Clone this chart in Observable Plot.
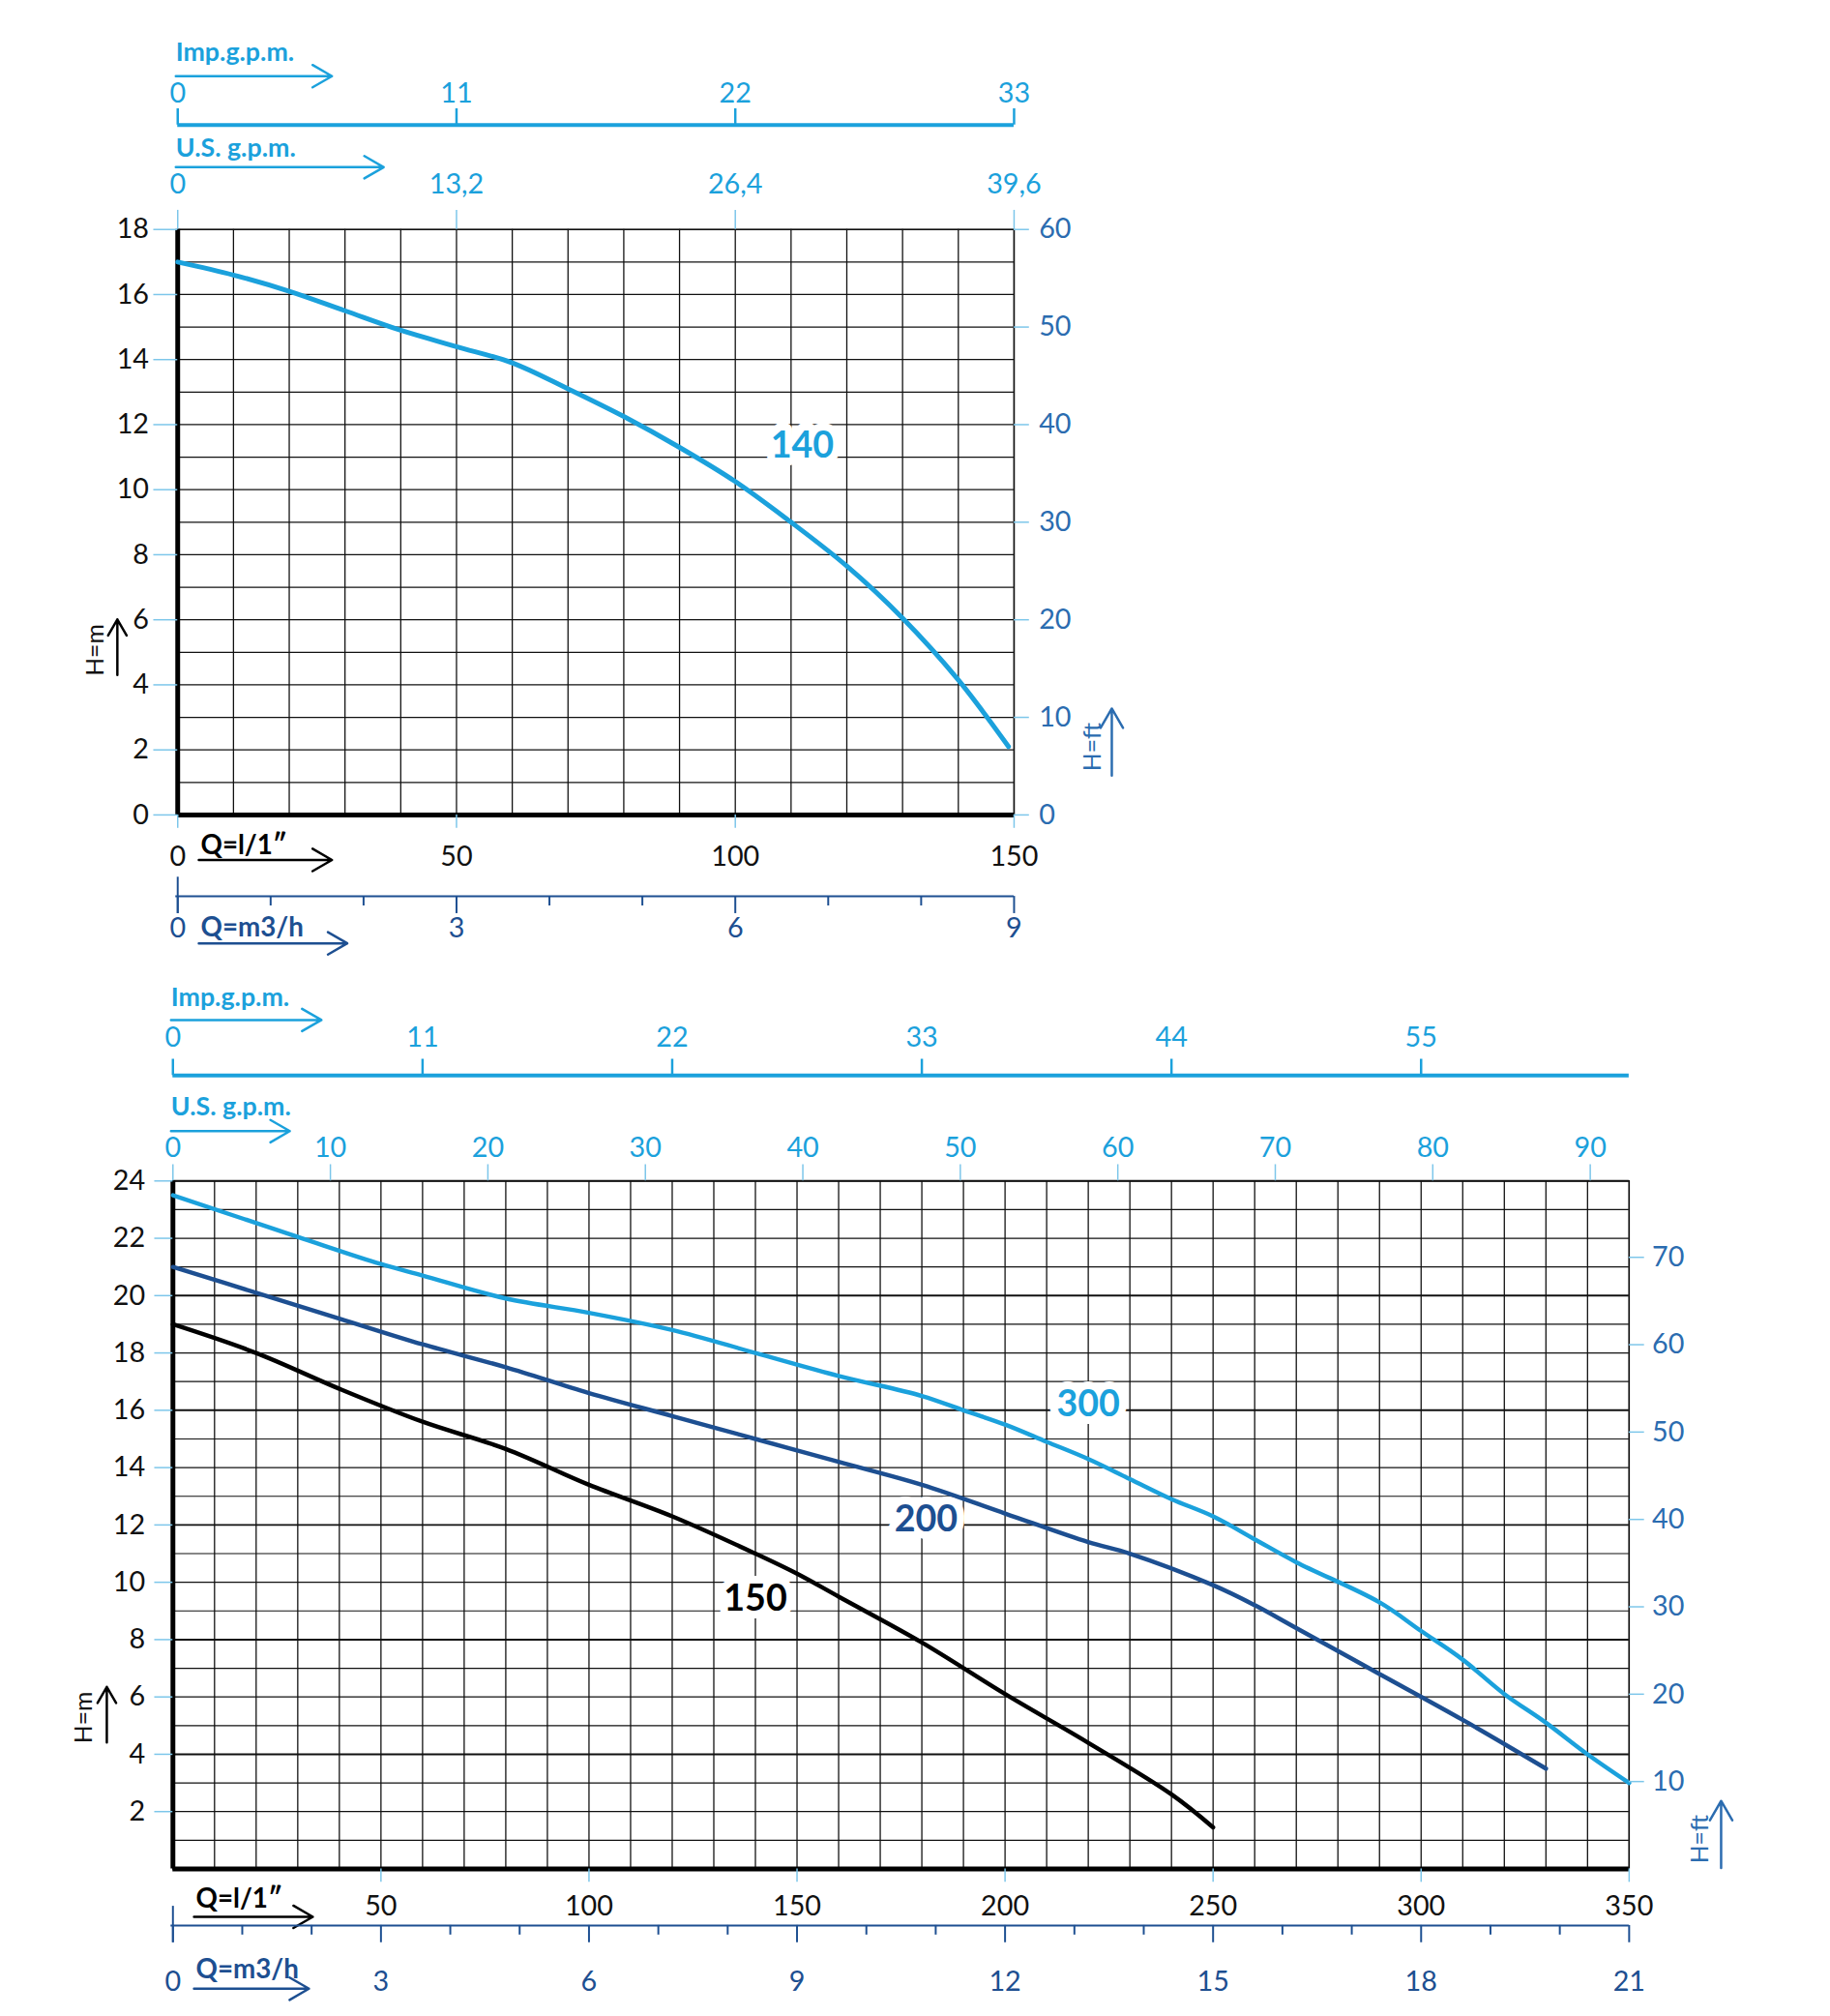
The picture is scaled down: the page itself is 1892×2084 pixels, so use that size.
<!DOCTYPE html>
<html><head><meta charset="utf-8">
<script src="https://cdn.jsdelivr.net/npm/d3@7"></script>
<script src="https://cdn.jsdelivr.net/npm/@observablehq/plot@0.6"></script>
<style>body{margin:0;background:#fff;overflow:hidden}svg{display:block}#c{transform:scale(0.9905);transform-origin:0 0}</style>
</head><body><div id="c"></div>
<script>
// ---- chart 1 data (Q in l/min, H in m)
const q140 = [0,10,20,30,40,50,60,70,80,90,100,110,120,130,140,149];
const h140 = [17,16.6,16.1,15.5,14.9,14.4,13.9,13.1,12.25,11.3,10.25,9.0,7.65,6.05,4.15,2.1];
const imp1 = ["0","11","22","33"], imp1Pos = [0,50,100,150];
const us1 = ["0","13,2","26,4","39,6"], us1Pos = [0,50,100,150];
const ls1 = [0,50,100,150];
const m3h1 = [0,3,6,9];
const hm1 = [0,2,4,6,8,10,12,14,16,18];
const ft1 = [0,10,20,30,40,50,60];
// ---- chart 2 data
const qA = [0,20,40,60,80,100,120,140,150,160,180,200,220,240,250];
const h150 = [19,18,16.75,15.6,14.65,13.4,12.3,11.0,10.3,9.5,7.9,6.1,4.4,2.6,1.45];
const qB = [0,20,40,60,80,100,120,140,160,180,200,220,230,250,260,270,290,310,330];
const h200 = [21,20.1,19.2,18.3,17.5,16.6,15.8,15.0,14.2,13.4,12.4,11.4,11.0,9.9,9.2,8.4,6.8,5.2,3.5];
const qC = [0,30,50,60,80,100,120,140,160,180,190,200,210,220,230,240,250,260,270,290,300,310,320,330,340,350];
const h300 = [23.5,22.05,21.1,20.7,19.9,19.4,18.8,18.0,17.2,16.5,16.0,15.5,14.9,14.3,13.6,12.9,12.3,11.5,10.7,9.3,8.3,7.3,6.1,5.1,4.0,3.0];
const imp2 = ["0","11","22","33","44","55"], imp2Pos = [0,60,120,180,240,300];
const us2 = [0,10,20,30,40,50,60,70,80,90];
const ls2 = [50,100,150,200,250,300,350];
const m3h2 = [0,3,6,9,12,15,18,21];
const hm2 = [2,4,6,8,10,12,14,16,18,20,22,24];
const ft2 = [10,20,30,40,50,60,70];

const LB="#1ba1dc", DB="#1d4f91", TB="#7cc6ea", RB="#2b6cb0";
const F = "Lato, 'Open Sans', sans-serif";

function chart(c){
  const {H,L,R,T,B,xmax,ymax} = c;
  const X = px => (px-L)*xmax/(R-L);
  const Y = py => ymax-(py-T)*ymax/(B-T);
  const marks = [];
  marks.push(Plot.ruleX(d3.range(0,xmax+1,10),{stroke:"#111",strokeWidth:1.3}));
  marks.push(Plot.ruleY(d3.range(0,ymax+1,1),{stroke:"#111",strokeWidth:d=>c.heavy&&d%4===0?2:1.2}));
  marks.push(Plot.ruleY([ymax],{stroke:"#111",strokeWidth:1.5}));
  marks.push(Plot.ruleX([xmax],{stroke:"#111",strokeWidth:1.5}));
  marks.push(Plot.ruleX([0],{stroke:"#000",strokeWidth:5}));
  marks.push(Plot.ruleY([0],{stroke:"#000",strokeWidth:5}));
  for(const s of c.series){
    const d = s.q.map((q,i)=>({q,h:s.h[i]}));
    marks.push(Plot.line(d,{x:"q",y:"h",stroke:s.color,strokeWidth:c.sw,curve:"catmull-rom"}));
  }
  for(const s of c.series){
    marks.push(Plot.text([s.label],{x:s.lx,y:s.ly,text:d=>d,fill:s.tcolor,fontSize:38,fontWeight:"bold",stroke:"white",strokeWidth:16,paintOrder:"stroke",fontFamily:F}));
  }
  marks.push(Plot.ruleY(c.hm,{x1:X(c.ltick),x2:0,stroke:TB,strokeWidth:1.5}));
  marks.push(Plot.text(c.hm,{x:X(c.llab),y:d=>d,text:d=>String(d),textAnchor:"end",fontSize:29,fill:"#111",fontFamily:F}));
  marks.push(Plot.ruleY(c.ft,{y:d=>d*c.ftf,x1:xmax,x2:X(R+16),stroke:TB,strokeWidth:1.5}));
  marks.push(Plot.text(c.ft,{x:X(c.rlab),y:d=>d*c.ftf,text:d=>String(d),textAnchor:"start",fontSize:29,fill:RB,fontFamily:F}));
  marks.push(Plot.ruleX(c.usPos,{y1:ymax,y2:Y(c.usTick),stroke:TB,strokeWidth:1.5}));
  marks.push(Plot.text(c.us,{x:(d,i)=>c.usPos[i],y:Y(c.usLab),text:d=>String(d),fontSize:29,fill:LB,fontFamily:F}));
  marks.push(Plot.text(["U.S. g.p.m."],{x:X(L-2),y:Y(c.usTitle),text:d=>d,textAnchor:"start",fontSize:27,fontWeight:"bold",fill:LB,fontFamily:F}));
  marks.push(Plot.arrow([0],{x1:X(L-2),x2:X(c.usArrowEnd),y1:Y(c.usArrow),y2:Y(c.usArrow),stroke:LB,strokeWidth:2.5,headLength:14}));
  marks.push(Plot.ruleY([0],{x1:0,x2:X(c.impLineEnd),y:Y(c.impLine),stroke:LB,strokeWidth:4}));
  marks.push(Plot.ruleX(c.impPos,{y1:Y(c.impLine),y2:Y(c.impLine-17),stroke:LB,strokeWidth:2.5}));
  marks.push(Plot.text(c.imp,{x:(d,i)=>c.impPos[i],y:Y(c.impLab),text:d=>d,fontSize:29,fill:LB,fontFamily:F}));
  marks.push(Plot.text(["Imp.g.p.m."],{x:X(L-2),y:Y(c.impTitle),text:d=>d,textAnchor:"start",fontSize:27,fontWeight:"bold",fill:LB,fontFamily:F}));
  marks.push(Plot.arrow([0],{x1:X(L-2),x2:X(c.impArrowEnd),y1:Y(c.impArrow),y2:Y(c.impArrow),stroke:LB,strokeWidth:2.5,headLength:14}));
  marks.push(Plot.ruleX(c.ls,{y1:0,y2:Y(B+14),stroke:TB,strokeWidth:1.5}));
  marks.push(Plot.text(c.ls,{x:d=>d,y:Y(c.lsLab),text:d=>String(d),fontSize:29,fill:"#111",fontFamily:F}));
  marks.push(Plot.text(["Q=l/1″"],{x:X(L+24),y:Y(c.qTitle),text:d=>d,textAnchor:"start",fontSize:28,fontWeight:"bold",fill:"#000",fontFamily:F}));
  marks.push(Plot.arrow([0],{x1:X(L+22),x2:X(c.qArrowEnd),y1:Y(c.qArrow),y2:Y(c.qArrow),stroke:"#000",strokeWidth:2.5,headLength:14}));
  const m3 = v=>v*1000/60;
  const allM = d3.range(0,c.m3h[c.m3h.length-1]+1,1);
  marks.push(Plot.ruleY([0],{x1:X(L-2),x2:m3(c.m3h[c.m3h.length-1]),y:Y(c.mLine),stroke:DB,strokeWidth:2}));
  marks.push(Plot.ruleX(allM,{x:m3,y1:Y(c.mLine),y2:d=>Y(c.mLine+(d%3===0?18:10)),stroke:DB,strokeWidth:2}));
  marks.push(Plot.ruleX([0],{y1:Y(c.mLine-20),y2:Y(c.mLine+18),stroke:DB,strokeWidth:2}));
  marks.push(Plot.text(c.m3h,{x:m3,y:Y(c.mLab),text:d=>String(d),fontSize:29,fill:DB,fontFamily:F}));
  marks.push(Plot.text(["Q=m3/h"],{x:X(L+24),y:Y(c.mTitle),text:d=>d,textAnchor:"start",fontSize:28,fontWeight:"bold",fill:DB,fontFamily:F}));
  marks.push(Plot.arrow([0],{x1:X(L+22),x2:X(c.mArrowEnd),y1:Y(c.mArrow),y2:Y(c.mArrow),stroke:DB,strokeWidth:2.5,headLength:14}));
  marks.push(Plot.text(["H=m"],{x:X(c.hmX),y:Y(c.hmY),text:d=>d,rotate:-90,fontSize:25,fill:"#111",fontFamily:F}));
  marks.push(Plot.arrow([0],{x1:X(c.hmAX),x2:X(c.hmAX),y1:Y(c.hmY+26),y2:Y(c.hmY-32),stroke:"#000",strokeWidth:2.5,headLength:14}));
  marks.push(Plot.text(["H=ft"],{x:X(c.hfX),y:Y(c.hfY),text:d=>d,rotate:-90,fontSize:25,fill:RB,fontFamily:F}));
  marks.push(Plot.arrow([0],{x1:X(c.hfAX),x2:X(c.hfAX),y1:Y(c.hfY+30),y2:Y(c.hfY-40),stroke:RB,strokeWidth:2.5,headLength:14}));
  return Plot.plot({width:1892,height:H,marginLeft:L,marginRight:1892-R,marginTop:T,marginBottom:H-B,
    x:{domain:[0,xmax],axis:null},y:{domain:[0,ymax],axis:null},style:{overflow:"visible",fontFamily:F},marks});
}

const c1 = chart({H:1000,L:185,R:1058,T:239,B:850,xmax:150,ymax:18,sw:5,heavy:false,
  series:[{q:q140,h:h140,color:LB,label:"140",lx:112,ly:11.35,tcolor:LB}],
  hm:hm1,ft:ft1,ftf:0.3,ltick:160,llab:155,rlab:1084,
  us:us1,usPos:us1Pos,usTick:219,usLab:192,usTitle:154,usArrow:174,usArrowEnd:400,
  imp:imp1,impPos:imp1Pos,impLine:130,impLineEnd:1058,impLab:97,impTitle:54,impArrow:79,impArrowEnd:346,
  ls:ls1,lsLab:894,qTitle:882,qArrow:897,qArrowEnd:346,
  m3h:m3h1,mLine:935,mLab:968,mTitle:968,mArrow:984,mArrowEnd:362,
  hmX:100,hmY:678,hmAX:122,hfX:1140,hfY:779,hfAX:1160});
const c2 = chart({H:1084,L:180,R:1700,T:232,B:950,xmax:350,ymax:24,sw:4.5,heavy:true,
  series:[{q:qA,h:h150,color:"#000",label:"150",lx:140,ly:9.4,tcolor:"#000"},
          {q:qB,h:h200,color:DB,label:"200",lx:181,ly:12.2,tcolor:DB},
          {q:qC,h:h300,color:LB,label:"300",lx:220,ly:16.2,tcolor:LB}],
  hm:hm2,ft:ft2,ftf:1/3.2808,ltick:161,llab:151,rlab:1724,
  us:us2,usPos:us2.map(v=>v*3.785),usTick:215,usLab:198,usTitle:155,usArrow:180,usArrowEnd:302,
  imp:imp2,impPos:imp2Pos,impLine:122,impLineEnd:1700,impLab:83,impTitle:41,impArrow:64,impArrowEnd:335,
  ls:ls2,lsLab:989,qTitle:981,qArrow:1000,qArrowEnd:326,
  m3h:m3h2,mLine:1009,mLab:1068,mTitle:1055,mArrow:1075,mArrowEnd:322,
  hmX:87,hmY:792,hmAX:111,hfX:1774,hfY:919,hfAX:1796});
document.getElementById("c").append(c1,c2);
</script></body></html>
